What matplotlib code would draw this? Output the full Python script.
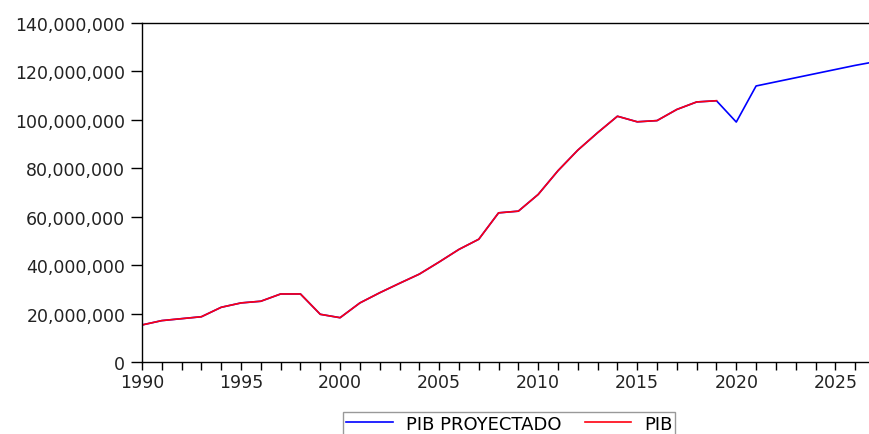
import matplotlib.pyplot as plt
from matplotlib.ticker import FuncFormatter, MultipleLocator

# PIB observado 1990-2019
years_pib = list(range(1990, 2020))
pib = [15.3, 17.1, 17.9, 18.7, 22.6, 24.4, 25.1, 28.1, 28.1, 19.7,
       18.3, 24.4, 28.6, 32.5, 36.3, 41.3, 46.5, 50.7, 61.6, 62.3,
       69.2, 79.0, 87.5, 94.7, 101.5, 99.2, 99.7, 104.3, 107.4, 107.9]

# PIB proyectado (sigue al observado y continua hasta 2027)
years_proj = list(range(1990, 2028))
pib_proj = pib + [99.1, 114.0, 115.7, 117.4, 119.1, 120.8, 122.5, 124.0]

pib = [v * 1e6 for v in pib]
pib_proj = [v * 1e6 for v in pib_proj]

plt.rcParams['font.family'] = ['DejaVu Sans']

fig = plt.figure(figsize=(8.69, 4.35), dpi=100)
ax = fig.add_axes([0.1634, 0.1655, 0.8366, 0.7793])

l1, = ax.plot(years_proj, pib_proj, color='#0000ff', lw=1.2, label='PIB PROYECTADO')
l2, = ax.plot(years_pib, pib, color='#ff0010', lw=1.2, label='PIB')

ax.set_xlim(1990, 2026.7)
ax.set_ylim(0, 140e6)
ax.xaxis.set_major_locator(MultipleLocator(5))
ax.xaxis.set_minor_locator(MultipleLocator(1))
ax.yaxis.set_major_locator(MultipleLocator(20e6))
ax.yaxis.set_major_formatter(FuncFormatter(lambda v, p: f'{int(v):,}'))

ax.spines['right'].set_visible(False)
for s in ['left', 'bottom', 'top']:
    ax.spines[s].set_linewidth(1.0)

ax.tick_params(axis='y', which='major', length=8, width=1, labelsize=12.5,
               pad=4, labelcolor='#222222')
ax.tick_params(axis='x', which='both', length=6, width=1, labelsize=12.5,
               pad=2, labelcolor='#222222')

fig.legend(handles=[l1, l2], loc='upper center', bbox_to_anchor=(0.586, 0.0506),
           ncol=2, fontsize=13, frameon=True, fancybox=False, edgecolor='#808080',
           handlelength=2.6, handletextpad=0.7, columnspacing=1.3,
           borderpad=0.15, borderaxespad=0)

plt.savefig('out.png', dpi=100)
